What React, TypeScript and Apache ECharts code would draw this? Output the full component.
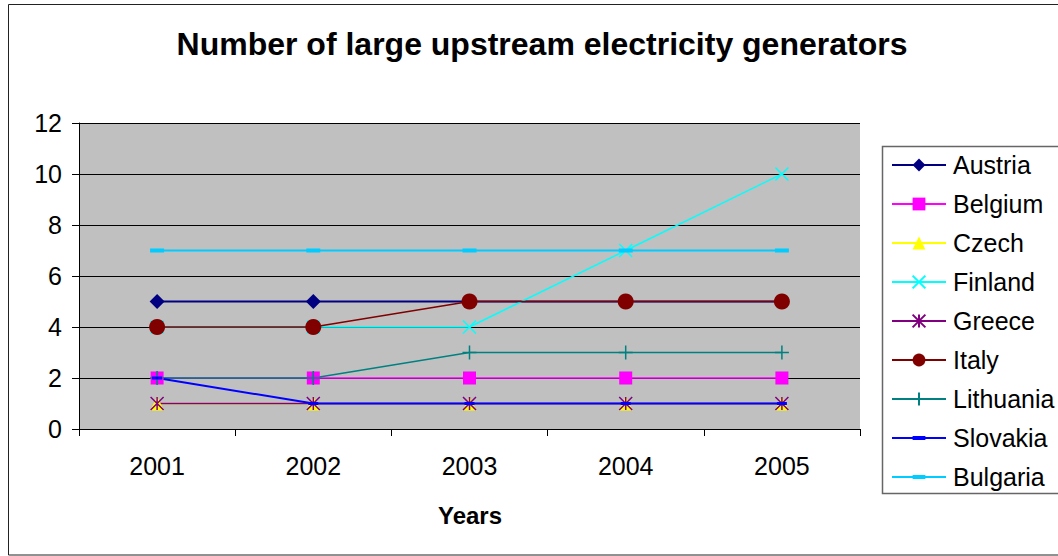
import React, { useEffect, useRef } from "react";
import * as echarts from "echarts";

const years = ["2001", "2002", "2003", "2004", "2005"];
const austria = [5, 5, 5, 5, 5];
const belgium = [2, 2, 2, 2, 2];
const czech = [1, 1, 1, 1, 1];
const finland = [4, 4, 4, 7, 10];
const greece = [1, 1, 1, 1, 1];
const italy = [4, 4, 5, 5, 5];
const lithuania = [2, 2, 3, 3, 3];
const slovakia = [2, 1, 1, 1, 1];
const bulgaria = [7, 7, 7, 7, 7];

const FONT = 'Arial, "Liberation Sans", sans-serif';

const X_PATH = "path://M0,0L10,10M10,0L0,10";
const STAR_PATH = "path://M0,0L10,10M10,0L0,10M5,0L5,10";
const PLUS_PATH = "path://M5,0L5,10M3,5L7,5";
const DASH_PATH = "path://M0,0L0.01,0ZM10,10L10.01,10ZM0,3.5L10,3.5L10,6.5L0,6.5Z";

export default function App() {
  const ref = useRef<HTMLDivElement>(null);
  useEffect(() => {
    if (!ref.current) return;
    const chart = echarts.init(ref.current, undefined, { renderer: "svg" });
    const mk = (
      name: string,
      data: number[],
      color: string,
      symbol: string,
      symbolSize: number | number[],
      width: number,
      extra: any = {}
    ) => ({
      name,
      type: "line",
      data,
      symbol,
      symbolSize,
      showSymbol: true,
      lineStyle: { color, width },
      itemStyle: { color, ...(extra.itemStyle || {}) },
      emphasis: { disabled: true },
    });
    chart.setOption({
      animation: false,
      graphic: [
        {
          type: "rect",
          shape: { x: 8.5, y: 4.5, width: 1060, height: 550.5 },
          style: { fill: "#fff", stroke: "#222", lineWidth: 1 },
          z: -10,
          silent: true,
        },
        {
          type: "rect",
          shape: { x: 882.5, y: 146.5, width: 200, height: 347 },
          style: { fill: "none", stroke: "#666", lineWidth: 1.5 },
          silent: true,
        },
        {
          type: "text",
          x: 542,
          y: 44,
          style: {
            text: "Number of large upstream electricity generators",
            font: `bold 32px ${FONT}`,
            fill: "#000",
            textAlign: "center",
            textVerticalAlign: "middle",
          },
        },
        {
          type: "text",
          x: 470,
          y: 515,
          style: {
            text: "Years",
            font: `bold 24px ${FONT}`,
            fill: "#000",
            textAlign: "center",
            textVerticalAlign: "middle",
          },
        },
      ],
      grid: {
        left: 79,
        top: 123,
        width: 781,
        height: 306,
        show: true,
        backgroundColor: "#C0C0C0",
        borderWidth: 0,
      },
      legend: {
        orient: "vertical",
        left: 891,
        top: 152,
        padding: 0,
        itemWidth: 54,
        itemHeight: 16,
        itemGap: 13,
        selectedMode: false,
        textStyle: { fontFamily: FONT, fontSize: 25, color: "#000", lineHeight: 26, padding: [0, 0, 0, 2] },
        data: ["Austria", "Belgium", "Czech", "Finland", "Greece", "Italy", "Lithuania", "Slovakia", "Bulgaria"],
      },
      xAxis: {
        type: "category",
        data: years,
        boundaryGap: true,
        axisLine: { lineStyle: { color: "#000", width: 1 } },
        axisTick: { show: true, length: 7, interval: 0, lineStyle: { color: "#000" } },
        axisLabel: { fontFamily: FONT, fontSize: 25, color: "#000", margin: 24 },
        splitLine: { show: false },
      },
      yAxis: {
        type: "value",
        min: 0,
        max: 12,
        interval: 2,
        axisLine: { show: true, lineStyle: { color: "#000", width: 1 } },
        axisTick: { show: true, length: 7, lineStyle: { color: "#000" } },
        axisLabel: { fontFamily: FONT, fontSize: 25, color: "#000", margin: 17 },
        splitLine: { show: true, lineStyle: { color: "#000", width: 1 } },
      },
      series: [
        mk("Austria", austria, "#000080", "diamond", 15, 2),
        mk("Belgium", belgium, "#FF00FF", "rect", 13, 1.5),
        mk("Czech", czech, "#FFFF00", "triangle", 14, 1.5),
        mk("Finland", finland, "#00FFFF", X_PATH, 13, 1.5, {
          itemStyle: { borderColor: "#00FFFF", borderWidth: 1.5 },
        }),
        mk("Greece", greece, "#800080", STAR_PATH, 13, 1.5, {
          itemStyle: { borderColor: "#800080", borderWidth: 1.5 },
        }),
        mk("Italy", italy, "#800000", "circle", 16, 1.5),
        mk("Lithuania", lithuania, "#008080", PLUS_PATH, 14, 1.5, {
          itemStyle: { borderColor: "#008080", borderWidth: 1.5 },
        }),
        mk("Slovakia", slovakia, "#0000FF", DASH_PATH, 10, 2),
        mk("Bulgaria", bulgaria, "#00CCFF", DASH_PATH, 14, 2),
      ],
    });
    return () => chart.dispose();
  }, []);
  return (
    <div
      ref={ref}
      style={{ position: "absolute", left: 0, top: 0, width: 1058, height: 556 }}
    />
  );
}
